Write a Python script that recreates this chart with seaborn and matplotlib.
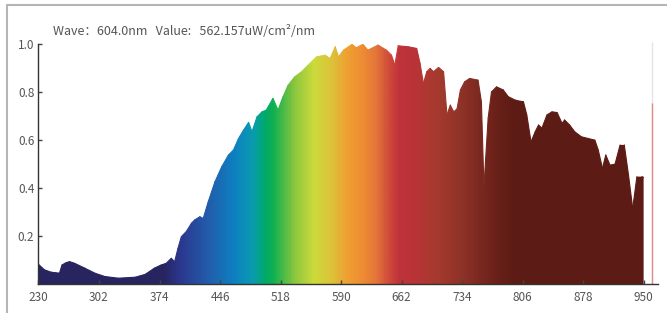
import numpy as np
import pandas as pd
import matplotlib
matplotlib.use('Agg')
import matplotlib.pyplot as plt
import seaborn as sns
from matplotlib.colors import LinearSegmentedColormap, Normalize
from matplotlib.patches import Rectangle

# spectrum (nm, relative level)
wave = [230, 237, 245, 255, 258, 263, 267, 273, 285, 297, 309, 325, 345, 357, 368,
        376, 382, 388, 392, 396, 400, 406, 412, 416, 422, 426, 432, 440, 448, 456,
        462, 468, 474, 480, 484, 490, 496, 501, 509, 515, 521, 527, 535, 543, 551,
        561, 571, 577, 583, 587, 593, 603, 608, 616, 622, 634, 644, 650, 654, 658,
        670, 680, 684, 688, 692, 696, 700, 706, 712, 716, 720, 724, 728, 732, 737,
        743, 753, 757, 760, 765, 769, 775, 783, 789, 797, 803, 807, 811, 816, 821,
        825, 829, 835, 841, 847, 853, 856, 862, 868, 876, 884, 892, 896, 901, 905,
        910, 916, 922, 927, 932, 937, 942, 948, 950]
value = [0.083, 0.060, 0.050, 0.046, 0.080, 0.090, 0.094, 0.087, 0.067, 0.046, 0.032,
         0.025, 0.029, 0.041, 0.067, 0.080, 0.087, 0.108, 0.094, 0.150, 0.198, 0.220,
         0.254, 0.268, 0.281, 0.274, 0.344, 0.427, 0.489, 0.538, 0.559, 0.607, 0.642,
         0.674, 0.635, 0.697, 0.718, 0.725, 0.774, 0.725, 0.781, 0.829, 0.864, 0.885,
         0.913, 0.947, 0.954, 0.940, 0.989, 0.947, 0.975, 0.999, 0.985, 0.999, 0.975,
         0.996, 0.975, 0.954, 0.913, 0.993, 0.989, 0.982, 0.920, 0.836, 0.885, 0.899,
         0.885, 0.903, 0.885, 0.705, 0.746, 0.718, 0.730, 0.809, 0.843, 0.857, 0.850,
         0.760, 0.406, 0.691, 0.801, 0.822, 0.809, 0.781, 0.767, 0.762, 0.760, 0.705,
         0.593, 0.635, 0.663, 0.650, 0.705, 0.718, 0.715, 0.670, 0.684, 0.663, 0.635,
         0.614, 0.607, 0.600, 0.559, 0.483, 0.538, 0.496, 0.500, 0.580, 0.580, 0.455,
         0.316, 0.448, 0.448, 0.445]

# colour stops of the wavelength gradient
color_waves = [230, 378, 400, 435, 462, 485, 500, 510, 535, 558, 578, 598, 615, 632,
               648, 660, 675, 706, 737, 775, 800, 967.5]
color_hexes = ['#27245f', '#27245f', '#2b3990', '#2160ad', '#0e7fc2', '#0a9bb0',
               '#00aa6a', '#10b050', '#8cc63f', '#cbdb3b', '#dcc43a', '#efa032',
               '#ee8e32', '#e4763a', '#cf4a3a', '#c0323a', '#bb3337', '#a53a2e',
               '#8c3127', '#6a2119', '#5c1b14', '#5c1b14']

xticks = [230, 302, 374, 446, 518, 590, 662, 734, 806, 878, 950]
yticks = [0.2, 0.4, 0.6, 0.8, 1.0]
cursor_wave = 960.3
cursor_value = 0.753
title = 'Wave：604.0nm   Value:   562.157uW/cm²/nm'

x0, x1 = 230, 967.5
norm = Normalize(x0, x1)
cmap = LinearSegmentedColormap.from_list(
    'spec', [(norm(w), c) for w, c in zip(color_waves, color_hexes)])

sns.set_theme(style='ticks')
plt.rcParams['font.family'] = ['Noto Sans CJK SC', 'DejaVu Sans']

fig, ax = plt.subplots(figsize=(6.67, 3.13), dpi=100)
fig.subplots_adjust(left=0.0577, right=0.987, bottom=0.092, top=0.859)

# gradient clipped by the spectrum area
area = ax.fill_between(wave, value, 0, color='none', lw=0)
grad = ax.imshow(np.linspace(x0, x1, 1200)[None, :], extent=[x0, x1, 0, 1.0],
                 cmap=cmap, norm=norm, aspect='auto', interpolation='bilinear')
grad.set_clip_path(area.get_paths()[0], transform=ax.transData)

# soft edge, each segment in its own colour
w = np.asarray(wave, dtype=float)
v = np.asarray(value, dtype=float)
seg = pd.DataFrame({'wave': np.repeat(w, 2)[1:-1],
                    'value': np.repeat(v, 2)[1:-1],
                    'seg': np.repeat(np.arange(len(w) - 1), 2)})
mids = (w[:-1] + w[1:]) / 2
palette = {i: cmap(norm(m)) for i, m in enumerate(mids)}
sns.lineplot(data=seg, x='wave', y='value', hue='seg', palette=palette,
             legend=False, lw=0.8, estimator=None, sort=False, ax=ax)

# cursor
ax.vlines(cursor_wave, 0, 1.01, color='#e4e4e4', lw=1, clip_on=False)
ax.vlines(cursor_wave, 0, cursor_value, color='#e58a8a', lw=1)

ax.set_xlim(x0, x1)
ax.set_ylim(0, 1.0)
ax.set_xticks(xticks)
ax.set_yticks(yticks)
ax.set_yticklabels([f'{t:.1f}' for t in yticks])
ax.set_xlabel('')
ax.set_ylabel('')
ax.grid(False)
sns.despine(ax=ax)
for s in ['left', 'bottom']:
    ax.spines[s].set_color('#333333')
    ax.spines[s].set_linewidth(1)
ax.tick_params(direction='in', length=3, width=1, color='#444444',
               labelcolor='#555555', labelsize=8.5)
ax.tick_params(axis='y', pad=3)
ax.tick_params(axis='x', pad=5)

fig.text(53 / 667, 1 - 31.5 / 313, title, fontsize=9, color='#555555',
         ha='left', va='center')

fig.add_artist(Rectangle((7.3 / 667, -0.05), 1.1, 1 - 5 / 313 + 0.05,
                         transform=fig.transFigure, fill=False,
                         ec='#b5b5b5', lw=1.5))

fig.savefig('out.png', dpi=100, facecolor='white')
